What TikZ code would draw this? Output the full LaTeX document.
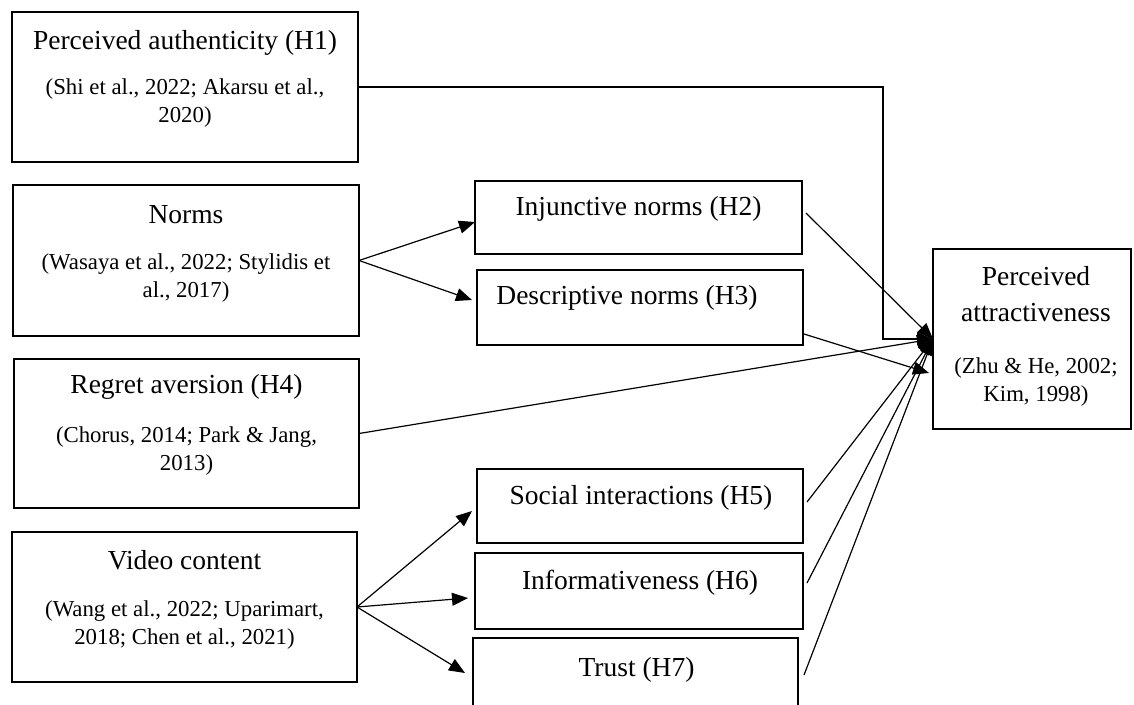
\documentclass[tikz,border=0pt]{standalone}
\usepackage{fontspec}
\setmainfont{Liberation Serif}
\usetikzlibrary{arrows.meta}
\tikzset{
  box/.style={draw=black, line width=1.2pt, inner sep=0pt, outer sep=0pt, anchor=north west, fill=none},
  ttl/.style={font=\fontsize{27.5}{36}\selectfont, inner sep=0pt, align=center},
  cite/.style={font=\fontsize{22.8}{28}\selectfont, inner sep=0pt, align=center},
  conn/.style={line width=1.2pt, draw=black},
  arr/.style={conn, -{Triangle[length=16pt,width=13pt]}}
}
\begin{document}
\begin{tikzpicture}[x=1pt,y=-1pt]
\clip (0,0) rectangle (1134,704);
\fill[white] (0,0) rectangle (1134,704);
% left column boxes
\node[box, minimum width=346pt, minimum height=150pt] (A) at (12,12) {};
\node[box, minimum width=346pt, minimum height=151pt] (N) at (13,185) {};
\node[box, minimum width=345pt, minimum height=149pt] (R) at (14,359) {};
\node[box, minimum width=345pt, minimum height=150pt] (V) at (12,532) {};
% middle boxes
\node[box, minimum width=327pt, minimum height=73pt] (Inj) at (475,181) {};
\node[box, minimum width=326pt, minimum height=75pt] (Des) at (477,270) {};
\node[box, minimum width=326pt, minimum height=74pt] (Soc) at (477,469) {};
\node[box, minimum width=328pt, minimum height=76pt] (Inf) at (475,553) {};
\node[box, minimum width=325pt, minimum height=82pt] (Tru) at (473,638) {};
% outcome box
\node[box, minimum width=198pt, minimum height=180pt] (Att) at (933,249) {};
% texts
\node[ttl] (At) at (185,43) {Perceived authenticity (H1)};
\node[cite] (Ac) at (185,103) {(Shi et al., 2022; Akarsu et al.,\\2020)};
\node[ttl] (Nt) at (186,215) {Norms};
\node[cite] (Nc) at (186,278.5) {(Wasaya et al., 2022; Stylidis et\\al., 2017)};
\node[ttl] (Rt) at (186.5,387) {Regret aversion (H4)};
\node[cite] (Rc) at (186.5,451.5) {(Chorus, 2014; Park \& Jang,\\2013)};
\node[ttl] (Vt) at (184.5,560) {Video content};
\node[cite] (Vc) at (184.5,625.5) {(Wang et al., 2022; Uparimart,\\2018; Chen et al., 2021)};
\node[ttl] (Injt) at (638.5,209) {Injunctive norms (H2)};
\node[ttl] (Dest) at (627,298) {Descriptive norms (H3)};
\node[ttl] (Soct) at (641,498) {Social interactions (H5)};
\node[ttl] (Inft) at (640,583) {Informativeness (H6)};
\node[ttl] (Trut) at (636.5,670) {Trust (H7)};
\node[ttl] (Att1) at (1036,294) {Perceived\\attractiveness};
\node[cite] (Att2) at (1036,382.5) {(Zhu \& He, 2002;\\Kim, 1998)};
% connectors
\coordinate (bend) at (883,0);
\draw[arr] (A.east) -- (A.east -| bend) |- (Att.west);
\draw[arr] (N.east) -- ([yshift=-4.5pt]Inj.west);
\draw[arr] (N.east) -- ([xshift=-5pt,yshift=7.5pt]Des.west);
\draw[arr] ([xshift=4pt,yshift=4.5pt]Inj.east) -- (Att.west);
\draw[arr] ([xshift=1pt,yshift=11pt]Des.south east) -- ([xshift=-4pt,yshift=-34pt]Att.west);
\draw[arr] (R.east) -- (Att.west);
\draw[arr] (V.east) -- ([xshift=-5pt,yshift=-5pt]Soc.west);
\draw[arr] (V.east) -- ([xshift=-7pt,yshift=-7pt]Inf.west);
\draw[arr] (V.east) -- ([xshift=-8pt,yshift=6pt]Tru.west);
\draw[arr] ([xshift=4pt,yshift=4pt]Soc.east) -- (Att.west);
\draw[arr] ([xshift=4pt,yshift=8pt]Inf.east) -- (Att.west);
\draw[arr] ([xshift=6pt,yshift=4pt]Tru.east) -- (Att.west);
\end{tikzpicture}
\end{document}
